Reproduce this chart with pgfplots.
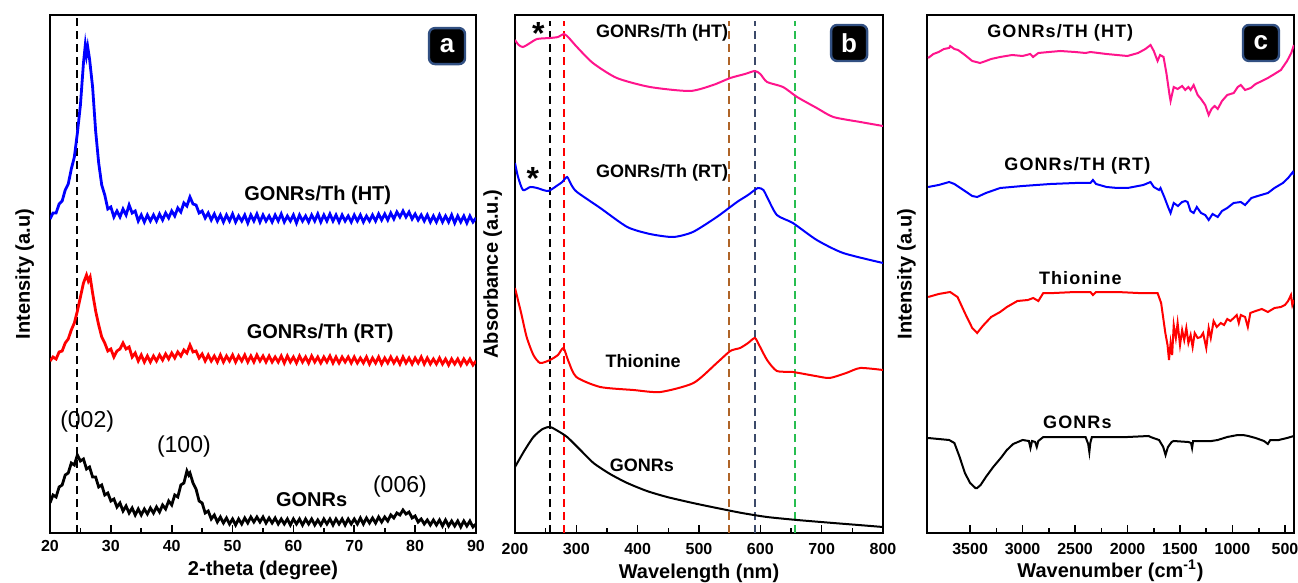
\documentclass[border=0pt]{standalone}
\usepackage{fontspec}
\setmainfont{Liberation Sans}
\usepackage{pgfplots}
\pgfplotsset{compat=1.18}

\definecolor{htpink}{RGB}{255,20,140}
\definecolor{lbrown}{RGB}{175,100,40}
\definecolor{lslate}{RGB}{60,74,106}
\definecolor{lgreen}{RGB}{40,190,80}
\definecolor{boxedge}{RGB}{50,80,130}

\pgfplotsset{
  panel/.style={
    scale only axis, anchor=north west, height=259pt,
    ymin=0, ymax=518, ytick=\empty,
    tick align=inside, xtick pos=bottom,
    axis line style={line width=1.2pt},
    major tick length=4pt, minor tick length=2.5pt,
    every tick/.style={black, line width=0.8pt},
    minor tick num=1,
    /pgf/number format/assume math mode=true,
    /pgf/number format/1000 sep={},
    xticklabel style={font=\fontsize{8}{9}\selectfont\bfseries},
    label style={font=\fontsize{10}{11}\selectfont\bfseries},
    xlabel style={at={(axis description cs:0.5,0)}, anchor=base},
  },
}
\tikzset{
  tag/.style={fill=black, draw=boxedge, line width=1.2pt, rounded corners=3pt,
    minimum width=18pt, minimum height=18pt, text=white,
    font=\fontsize{13}{13}\selectfont\bfseries},
}

\begin{document}
\begin{tikzpicture}
\useasboundingbox (0,0) rectangle (649pt,-291.5pt);

% ---- (a) XRD ----
\begin{axis}[panel, at={(25pt,-7.5pt)}, width=213pt,
  xmin=20, xmax=90, xtick={20,30,...,90},
  xlabel={2-theta (degree)}, xlabel style={yshift=-21pt},
  ylabel={Intensity (a.u)},
  ylabel style={at={(axis description cs:-0.021,0.5)}, anchor=south}]
\addplot[black, line width=1pt, dash pattern=on 4pt off 2.5pt] coordinates {(24.5,0)(24.5,518)};
\addplot[blue, line width=1.4pt] coordinates {
(20,314)(20.5,320)(21,320)(21.5,329)(22,332)(22.5,343)(23,349)(23.5,364)(24,376)(24.5,400)(25,428)(25.5,470)(25.8,488)(26,478)(26.2,486)(26.5,474)(27,446)(27.5,402)(28,370)(28.5,348)(29,338)(29.5,324)(30,326)(30.5,316)(31,322)(31.5,316)(32,324)(32.5,318)(33,328)(33.5,320)(34,322)(34.5,312)(35,318)(35.5,311)(36,318)(36.5,312)(37,318)(37.5,312)(38,319)(38.5,313)(39,320)(39.5,315)(40,322)(40.5,317)(41,325)(41.5,321)(42,330)(42.5,327)(43,336)(43.5,329)(44,328)(44.5,320)(45,322)(45.5,315)(46,320)(46.5,313)
(47,319)(47.5,312)(48,318)(48.5,311)(49,318)(49.5,312)(50,319)(50.5,311)(51,317)(51.5,312)(52,318)(52.5,310)(53,318)(53.5,312)(54,319)(54.5,311)(55,318)(55.5,312)(56,317)(56.5,311)(57,318)(57.5,312)(58,319)(58.5,311)(59,317)(59.5,312)(60,318)(60.5,310)(61,318)(61.5,312)(62,317)(62.5,311)(63,318)(63.5,312)(64,319)(64.5,311)(65,318)(65.5,312)(66,319)(66.5,312)(67,318)(67.5,311)(68,318)(68.5,312)(69,317)(69.5,311)(70,318)(70.5,312)(71,318)(71.5,311)(72,317)(72.5,312)(73,318)(73.5,312)(74,319)(74.5,313)(75,319)(75.5,313)(76,320)(76.5,314)(77,321)(77.5,316)(78,322)(78.5,316)(79,321)(79.5,314)(80,319)(80.5,313)(81,318)(81.5,312)(82,318)(82.5,311)(83,317)(83.5,311)(84,318)(84.5,311)(85,317)(85.5,311)(86,318)(86.5,310)(87,317)(87.5,311)(88,317)(88.5,310)(89,317)(89.5,311)(90,315)
};
\addplot[red, line width=1.4pt] coordinates {
(20,172)(20.5,176)(21,174)(21.5,181)(22,182)(22.5,190)(23,194)(23.5,203)(24,210)(24.5,222)(25,236)(25.5,250)(26,258)(26.3,252)(26.6,256)(27,240)(27.5,222)(28,208)(28.5,196)(29,190)(29.5,182)(30,184)(30.5,176)(31,182)(31.5,184)(32,190)(32.5,184)(33,186)(33.5,176)(34,180)(34.5,172)(35,178)(35.5,171)(36,177)(36.5,171)(37,177)(37.5,172)(38,178)(38.5,173)(39,179)(39.5,174)(40,180)(40.5,175)(41,181)(41.5,177)(42,183)(42.5,180)(43,188)(43.5,181)(44,182)(44.5,175)(45,179)(45.5,172)(46,178)(46.5,172)
(47,177)(47.5,171)(48,178)(48.5,171)(49,177)(49.5,172)(50,178)(50.5,171)(51,177)(51.5,172)(52,178)(52.5,171)(53,177)(53.5,171)(54,178)(54.5,172)(55,177)(55.5,171)(56,177)(56.5,171)(57,176)(57.5,171)(58,177)(58.5,170)(59,177)(59.5,171)(60,176)(60.5,170)(61,177)(61.5,171)(62,176)(62.5,170)(63,177)(63.5,171)(64,176)(64.5,170)(65,176)(65.5,171)(66,177)(66.5,170)(67,176)(67.5,170)(68,176)(68.5,171)(69,176)(69.5,170)(70,176)(70.5,170)(71,175)(71.5,170)(72,176)(72.5,169)(73,175)(73.5,170)(74,176)(74.5,169)(75,175)(75.5,170)(76,176)(76.5,170)(77,175)(77.5,169)(78,176)(78.5,170)(79,175)(79.5,169)(80,175)(80.5,170)(81,176)(81.5,169)(82,175)(82.5,169)(83,174)(83.5,169)(84,175)(84.5,169)(85,174)(85.5,168)(86,174)(86.5,169)(87,174)(87.5,168)(88,174)(88.5,169)(89,174)(89.5,168)(90,172)
};
\addplot[black, line width=1.4pt] coordinates {
(20,30)(20.5,38)(21,36)(21.5,46)(22,48)(22.5,58)(23,60)(23.5,70)(24,68)(24.5,78)(25,72)(25.5,74)(26,64)(26.5,66)(27,56)(27.5,56)(28,46)(28.5,48)(29,38)(29.5,40)(30,32)(30.5,34)(31,26)(31.5,30)(32,22)(32.5,27)(33,20)(33.5,25)(34,18)(34.5,24)(35,18)(35.5,24)(36,19)(36.5,25)(37,20)(37.5,26)(38,21)(38.5,28)(39,24)(39.5,32)(40,28)(40.5,38)(41,36)(41.5,48)(42,50)(42.5,62)(42.8,58)(43,60)(43.5,50)(44,44)(44.5,32)(45,30)(45.5,20)(46,22)(46.5,14)(47,18)(47.5,11)(48,16)(48.5,10)(49,15)(49.5,9)(50,14)(50.5,8)(51,14)
(51.5,9)(52,15)(52.5,10)(53,16)(53.5,11)(54,16)(54.5,11)(55,16)(55.5,10)(56,15)(56.5,10)(57,15)(57.5,9)(58,14)(58.5,9)(59,14)(59.5,8)(60,14)(60.5,9)(61,14)(61.5,8)(62,14)(62.5,9)(63,14)(63.5,8)(64,13)(64.5,8)(65,14)(65.5,9)(66,14)(66.5,8)(67,14)(67.5,9)(68,14)(68.5,8)(69,14)(69.5,9)(70,14)(70.5,9)(71,15)(71.5,9)(72,15)(72.5,10)(73,15)(73.5,10)(74,16)(74.5,11)(75,16)(75.5,12)(76,18)(76.5,15)(77,20)(77.5,18)(78,23)(78.5,19)(79,21)(79.5,15)(80,17)(80.5,11)(81,14)(81.5,9)(82,13)(82.5,8)(83,13)(83.5,8)(84,13)(84.5,7)(85,13)(85.5,7)(86,12)(86.5,7)(87,12)(87.5,6)(88,12)(88.5,7)(89,12)(89.5,6)(90,9)
};
\node[font=\fontsize{10}{10}\selectfont\bfseries] at (axis cs:64,338) {GONRs/Th (HT)};
\node[font=\fontsize{10}{10}\selectfont\bfseries] at (axis cs:64.4,200) {GONRs/Th (RT)};
\node[font=\fontsize{10}{10}\selectfont\bfseries] at (axis cs:63,33) {GONRs};
\node[font=\fontsize{11.5}{12}\selectfont] at (axis cs:26.1,111) {(002)};
\node[font=\fontsize{11.5}{12}\selectfont] at (axis cs:42,86) {(100)};
\node[font=\fontsize{11.5}{12}\selectfont] at (axis cs:77.5,46) {(006)};
\node[tag] at (rel axis cs:0.932,0.94) {a};
\end{axis}

% ---- (b) UV-vis ----
\begin{axis}[panel, at={(257.5pt,-7.5pt)}, width=184pt,
  xmin=200, xmax=800, xtick={200,300,...,800},
  xticklabel style={yshift=-1.5pt},
  xlabel={Wavelength (nm)}, xlabel style={yshift=-22.5pt},
  ylabel={Absorbance (a.u.)},
  ylabel style={at={(axis description cs:-0.016,0.5)}, anchor=south}]
\addplot[black, line width=1pt, dash pattern=on 4pt off 2.5pt] coordinates {(257,0)(257,512)};
\addplot[red, line width=1pt, dash pattern=on 4pt off 2.5pt] coordinates {(280,0)(280,512)};
\addplot[lbrown, line width=1pt, dash pattern=on 4pt off 2.5pt] coordinates {(549,0)(549,512)};
\addplot[lslate, line width=1pt, dash pattern=on 4pt off 2.5pt] coordinates {(591,0)(591,512)};
\addplot[lgreen, line width=1pt, dash pattern=on 4pt off 2.5pt] coordinates {(657,0)(657,512)};
\addplot[htpink, line width=1pt, smooth, tension=0.4] coordinates {
(200,493)(206,488)(213,486)(222,489)(236,494)(257,495)(270,496)(280,499)(288,495)(301,486)(327,470)(366,455)(420,446)(485,442)(523,448)(551,455)(575,459)(591,462)(600,459)(611,451)(637,446)(660,436)(692,425)(719,416)(763,411)(800,407)
};
\addplot[blue, line width=1pt, smooth, tension=0.4] coordinates {
(200,370)(205,356)(213,343)(225,346)(236,345)(254,342)(270,348)(277,351)(285,356)(292,348)(301,341)(339,325)(383,306)(420,299)(458,296)(490,301)(529,316)(562,331)(580,338)(596,345)(605,343)(611,336)(627,318)(653,310)(692,293)(735,280)(800,270)
};
\addplot[red, line width=1pt, smooth, tension=0.4] coordinates {
(200,245)(210,220)(219,196)(230,178)(241,170)(257,173)(270,178)(279,185)(287,172)(300,156)(339,146)(393,143)(437,141)(491,150)(529,170)(551,182)(567,185)(580,190)(591,195)(598,188)(611,173)(627,162)(653,161)(690,157)(713,155)(740,160)(763,165)(800,163)
};
\addplot[black, line width=1pt, smooth, tension=0.4] coordinates {
(200,66)(215,82)(230,96)(245,104)(257,106)(270,102)(285,96)(305,84)(328,70)(355,59)(383,50)(415,42)(448,36)(490,30)(529,25)(570,20)(611,16)(660,13)(719,10)(760,8)(800,6)
};
\node[font=\fontsize{9}{9}\selectfont\bfseries] at (axis cs:440,500) {GONRs/Th (HT)};
\node[font=\fontsize{9}{9}\selectfont\bfseries] at (axis cs:440,360) {GONRs/Th (RT)};
\node[font=\fontsize{9}{9}\selectfont\bfseries] at (axis cs:409,172) {Thionine};
\node[font=\fontsize{9}{9}\selectfont\bfseries] at (axis cs:407,68) {GONRs};
\node[font=\fontsize{16}{16}\selectfont\bfseries] at (axis cs:238,500) {*};
\node[font=\fontsize{16}{16}\selectfont\bfseries] at (axis cs:229,355) {*};
\node[tag] at (rel axis cs:0.908,0.946) {b};
\end{axis}

% ---- (c) FTIR ----
\begin{axis}[panel, at={(463.5pt,-7.5pt)}, width=183.5pt,
  xmin=414, xmax=3911, x dir=reverse, xtick={500,1000,...,3500},
  xticklabel style={yshift=-1.5pt},
  xlabel={Wavenumber (cm\textsuperscript{-1})}, xlabel style={yshift=-22pt},
  ylabel={Intensity (a.u)},
  ylabel style={at={(axis description cs:-0.011,0.5)}, anchor=south}]
\addplot[htpink, line width=1pt] coordinates {
(3900,475)(3850,479)(3800,481)(3750,484)(3700,485)(3690,487)(3650,484)(3615,483)(3550,478)(3480,472)(3405,470)(3350,472)(3300,474)(3214,476)(3100,478)(3000,477)(2927,479)(2900,476)(2850,480)(2750,481)(2641,482)(2500,481)(2400,480)(2354,481)(2200,479)(2100,478)(2001,477)(1900,480)(1830,484)(1781,488)(1750,482)(1714,472)(1690,478)(1657,476)(1630,460)(1600,438)(1590,432)(1560,446)(1523,444)(1480,447)(1450,443)(1420,446)(1399,443)(1370,448)(1332,438)(1300,434)(1260,428)(1227,418)(1200,424)(1170,427)(1141,424)(1100,432)(1050,438)(988,440)(950,446)(921,448)(880,443)(826,445)(780,449)(720,452)(663,455)(600,459)(539,463)(480,472)(440,480)(415,488)
};
\addplot[blue, line width=1pt] coordinates {
(3900,346)(3800,348)(3700,351)(3650,349)(3550,342)(3480,337)(3433,336)(3350,340)(3214,345)(3000,347)(2736,349)(2500,350)(2354,350)(2330,353)(2300,349)(2200,346)(2096,345)(2000,345)(1850,348)(1781,351)(1750,346)(1700,343)(1686,345)(1650,336)(1610,325)(1590,320)(1560,330)(1520,327)(1480,331)(1450,332)(1428,331)(1400,322)(1370,320)(1340,326)(1300,320)(1260,318)(1227,313)(1190,319)(1141,316)(1100,322)(1050,325)(990,330)(921,331)(880,328)(820,335)(760,337)(663,340)(600,345)(520,350)(470,355)(425,361)(414,358)
};
\addplot[red, line width=1pt] coordinates {
(3900,236)(3800,239)(3691,241)(3620,236)(3550,220)(3480,205)(3433,200)(3380,207)(3300,216)(3214,221)(3150,226)(3050,232)(2950,233)(2899,235)(2850,232)(2803,240)(2700,240)(2500,241)(2354,241)(2330,238)(2300,241)(2100,241)(1900,240)(1714,240)(1680,230)(1640,200)(1619,188)(1605,173)(1590,190)(1575,178)(1560,208)(1540,195)(1523,210)(1500,188)(1480,203)(1460,193)(1440,205)(1420,190)(1399,198)(1380,186)(1360,200)(1332,195)(1303,196)(1280,200)(1250,185)(1227,205)(1207,195)(1180,212)(1150,206)(1112,210)(1080,208)(1050,214)(1020,212)(988,215)(960,218)(940,210)(921,218)(880,216)(854,206)(830,220)(780,222)(720,224)(663,221)(600,225)(539,226)(500,228)(470,232)(443,238)(430,228)(415,233)
};
\addplot[black, line width=1pt] coordinates {
(3900,95)(3800,94)(3700,93)(3650,90)(3600,76)(3550,60)(3500,50)(3450,45)(3433,45)(3400,48)(3350,56)(3280,66)(3200,76)(3150,83)(3090,89)(3000,93)(2940,92)(2925,85)(2910,92)(2880,91)(2865,86)(2850,92)(2803,96)(2600,96)(2400,96)(2375,89)(2364,81)(2355,90)(2340,96)(2000,96)(1800,97)(1781,96)(1700,93)(1660,86)(1638,78)(1615,86)(1580,91)(1562,92)(1420,91)(1395,90)(1385,85)(1375,92)(1300,92)(1200,92)(1141,93)(1050,96)(950,98)(900,98)(850,97)(780,95)(700,92)(663,89)(640,93)(560,93)(480,95)(415,97)
};
\node[font=\fontsize{9}{9}\selectfont\bfseries\addfontfeature{LetterSpace=6}] at (axis cs:2641,500) {GONRs/TH (HT)};
\node[font=\fontsize{9}{9}\selectfont\bfseries\addfontfeature{LetterSpace=6}] at (axis cs:2478,367) {GONRs/TH (RT)};
\node[font=\fontsize{9}{9}\selectfont\bfseries\addfontfeature{LetterSpace=6}] at (axis cs:2450,255) {Thionine};
\node[font=\fontsize{9}{9}\selectfont\bfseries\addfontfeature{LetterSpace=6}] at (axis cs:2478,111) {GONRs};
\node[tag] at (rel axis cs:0.91,0.946) {c};
\end{axis}
\end{tikzpicture}
\end{document}
